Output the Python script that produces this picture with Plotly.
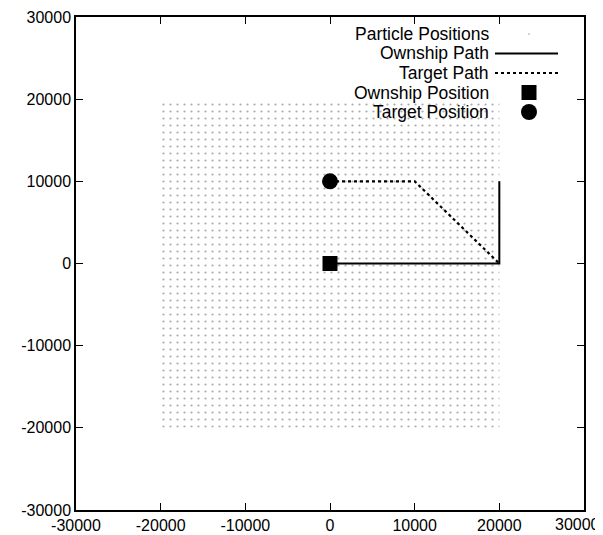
import plotly.graph_objects as go

# ---- data ----
particle_x_extent = [-20000, 20000]   # particle cloud extent (x)
particle_y_extent = [-20000, 20000]   # particle cloud extent (y)
ownship_path_x = [0, 20000, 20000]
ownship_path_y = [0, 0, 10000]
target_path_x = [0, 10000, 20000]
target_path_y = [10000, 10000, 0]
ownship_pos_x = [0]
ownship_pos_y = [0]
target_pos_x = [0]
target_pos_y = [10000]
tick_vals = [-30000, -20000, -10000, 0, 10000, 20000, 30000]
legend_labels = ["Particle Positions", "Ownship Path", "Target Path",
                 "Ownship Position", "Target Position"]

FONT = "Liberation Sans, Arial, Helvetica, sans-serif"
OFF = 8                      # page body margin offset
W, H = 603 - OFF, 535 - OFF
PL, PR, PT, PB = 76, 584, 17, 510   # plot area in page pixels
L = PL - OFF
T = PT - OFF
PW = PR - PL
PH = PB - PT
R = W - L - PW
B = H - T - PH

def px(x):
    return (x - PL) / PW

def py(y):
    return (PB - y) / PH

fig = go.Figure()

# particle cloud as dotted fill over its extent
x0, x1 = particle_x_extent
y0, y1 = particle_y_extent
fig.add_trace(go.Scatter(
    x=[x0, x1, x1, x0, x0], y=[y0, y0, y1, y1, y0],
    mode="lines", line=dict(width=0), fill="toself",
    fillcolor="rgba(0,0,0,0)",
    fillpattern=dict(shape=".", size=7, solidity=0.08, fgcolor="#555555",
                     bgcolor="rgba(255,255,255,0)"),
    hoverinfo="skip", showlegend=False))

fig.add_trace(go.Scatter(x=ownship_path_x, y=ownship_path_y, mode="lines",
                         line=dict(color="black", width=2), showlegend=False))
fig.add_trace(go.Scatter(x=target_path_x, y=target_path_y, mode="lines",
                         line=dict(color="black", width=2.2, dash="dot"),
                         showlegend=False))
fig.add_trace(go.Scatter(x=ownship_pos_x, y=ownship_pos_y, mode="markers",
                         marker=dict(symbol="square", size=15, color="black"),
                         showlegend=False))
fig.add_trace(go.Scatter(x=target_pos_x, y=target_pos_y, mode="markers",
                         marker=dict(symbol="circle", size=16, color="black"),
                         showlegend=False))

# ---- custom gnuplot-style legend (text right, sample left) ----
legend_y = [34, 53.5, 73, 92.5, 112]
text_right = 489
sample_x0, sample_x1, sample_c = 495, 558, 529
annotations = []
shapes = []
for lab, yy in zip(legend_labels, legend_y):
    annotations.append(dict(x=px(text_right), y=py(yy), xref="paper", yref="paper",
                            text=lab, showarrow=False, xanchor="right",
                            yanchor="middle", xshift=2,
                            font=dict(family=FONT, size=17.5, color="black")))
# last x tick label (hidden by plotly because it overflows the page edge)
annotations.append(dict(x=(602 - PL) / PW, y=0, xref="paper", yref="paper",
                        text=str(tick_vals[-1]), showarrow=False,
                        xanchor="right", yanchor="top", yshift=-4,
                        font=dict(family=FONT, size=16, color="black")))
# particle sample dot
shapes.append(dict(type="circle", xref="paper", yref="paper",
                   xsizemode="pixel", ysizemode="pixel",
                   xanchor=px(sample_c), yanchor=py(legend_y[0]),
                   x0=-0.8, x1=0.8, y0=-0.8, y1=0.8,
                   fillcolor="#999999", line=dict(width=0)))
shapes.append(dict(type="line", xref="paper", yref="paper",
                   x0=px(sample_x0), x1=px(sample_x1),
                   y0=py(legend_y[1]), y1=py(legend_y[1]),
                   line=dict(color="black", width=2)))
shapes.append(dict(type="line", xref="paper", yref="paper",
                   x0=px(sample_x0), x1=px(sample_x1),
                   y0=py(legend_y[2]), y1=py(legend_y[2]),
                   line=dict(color="black", width=2.2, dash="dot")))
shapes.append(dict(type="rect", xref="paper", yref="paper",
                   xsizemode="pixel", ysizemode="pixel",
                   xanchor=px(sample_c), yanchor=py(legend_y[3]),
                   x0=-7.5, x1=7.5, y0=-7.5, y1=7.5,
                   fillcolor="black", line=dict(width=0)))
shapes.append(dict(type="circle", xref="paper", yref="paper",
                   xsizemode="pixel", ysizemode="pixel",
                   xanchor=px(sample_c), yanchor=py(legend_y[4]),
                   x0=-8, x1=8, y0=-8, y1=8,
                   fillcolor="black", line=dict(width=0)))

axis_common = dict(range=[-30000, 30000], tickvals=tick_vals,
                   ticktext=[str(v) for v in tick_vals],
                   ticks="inside", ticklen=7, tickwidth=1.2, tickcolor="black",
                   showline=True, linecolor="black", linewidth=1.5,
                   mirror="ticks", showgrid=False, zeroline=False,
                   automargin=False,
                   tickfont=dict(family=FONT, size=16, color="black"),
                   fixedrange=True)

fig.update_layout(
    width=W, height=H,
    margin=dict(l=L, r=R, t=T, b=B),
    plot_bgcolor="white", paper_bgcolor="white",
    xaxis=dict(**axis_common),
    yaxis=dict(**axis_common),
    annotations=annotations, shapes=shapes,
    showlegend=False,
)

fig.write_html("out.html")
